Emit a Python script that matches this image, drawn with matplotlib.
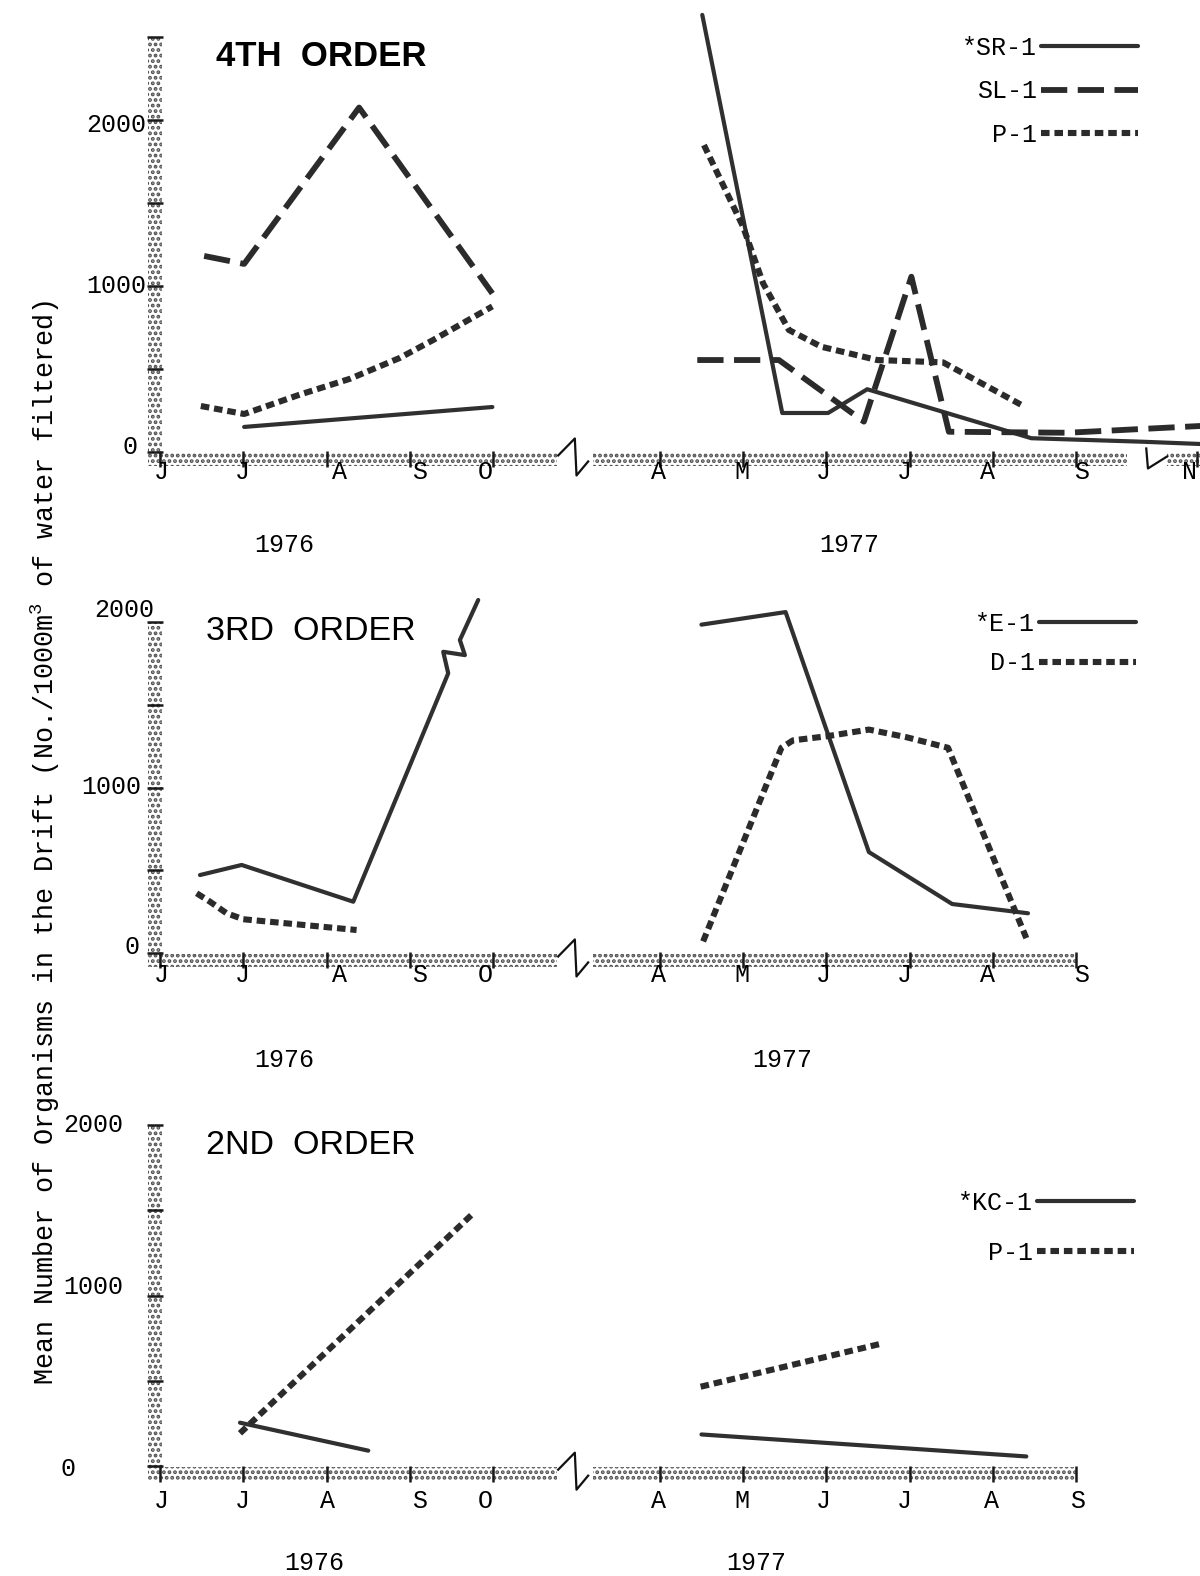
import matplotlib.pyplot as plt
import matplotlib.transforms as mtransforms
from matplotlib.patches import Rectangle

plt.rcParams['font.family'] = 'Liberation Mono'
plt.rcParams['mathtext.fontset'] = 'custom'
plt.rcParams['mathtext.rm'] = 'Liberation Mono'
plt.rcParams['hatch.linewidth'] = 1.9

# x = months counted from June 1976 (April 1977 = 6)
month_ticks_76 = [0, 1, 2, 3, 4]
month_labels_76 = ['J', 'J', 'A', 'S', 'O']
month_ticks_77 = [6, 7, 8, 9, 10, 11]
month_labels_77 = ['A', 'M', 'J', 'J', 'A', 'S']
nov_tick = 12.45

# 4th order
sr1_76_x = [1.01, 3.99]
sr1_76_y = [151, 271]
sr1_77_x = [6.51, 7.47, 8.02, 8.49, 10.46, 11.79, 12.5]
sr1_77_y = [2633, 235, 235, 378, 83, 62, 48]
sl1_76_x = [0.53, 1.01, 2.39, 3.99]
sl1_76_y = [1181, 1133, 2075, 955]
sl1_77_x = [6.45, 7.43, 8.45, 9.02, 9.47, 10.9, 12.5]
sl1_77_y = [554, 554, 183, 1056, 122, 116, 157]
p1a_76_x = [0.49, 1.01, 1.68, 2.28, 2.88, 3.28, 3.99]
p1a_76_y = [277, 229, 346, 441, 567, 675, 877]
p1a_77_x = [6.53, 7.0, 7.24, 7.55, 7.94, 8.61, 9.4, 10.38]
p1a_77_y = [1849, 1357, 1016, 735, 634, 554, 540, 273]

# 3rd order (E-1 1976 keeps the break mark drawn on the line)
e1_76_x = [0.48, 0.98, 2.32, 3.46, 3.40, 3.66, 3.60, 3.82]
e1_76_y = [471, 532, 310, 1690, 1820, 1800, 1891, 2133]
d1_76_x = [0.44, 0.60, 0.80, 1.0, 2.36]
d1_76_y = [361, 310, 240, 204, 139]
e1_77_x = [6.5, 7.51, 8.51, 9.51, 10.42]
e1_77_y = [1984, 2060, 610, 296, 240]
d1_77_x = [6.52, 7.46, 7.6, 8.01, 8.51, 8.96, 9.46, 10.4]
d1_77_y = [70, 1240, 1285, 1310, 1350, 1304, 1240, 90]

# 2nd order
kc1_76_x = [0.96, 2.50]
kc1_76_y = [254, 90]
p1b_76_x = [0.96, 3.76]
p1b_76_y = [192, 1482]
kc1_77_x = [6.5, 10.4]
kc1_77_y = [185, 56]
p1b_77_x = [6.49, 8.68]
p1b_77_y = [465, 720]

W, H = 1200, 1576
X0, DX = 160, 83.3          # pixel of June 1976 and pixels per month
XLIM = (-0.15, 12.48)
BAND = (-85, -5)             # stippled x axis band (data units)
YBAND = (-0.14, 0.02)        # stippled y axis band (months)

# the typed month letters sit a little off the tick marks
label_pos_top = [0.01, 0.99, 2.16, 3.11, 3.9, 5.99, 6.98, 7.96, 8.94, 9.93, 11.06]
label_pos_bottom = [0.01, 0.99, 2.01, 3.12, 3.9, 5.99, 6.98, 7.96, 8.94, 9.98, 11.02]

fig = plt.figure(figsize=(W / 100, H / 100), dpi=100)

solid = dict(color='#303030', lw=3.0, solid_capstyle='round')
dashed = dict(color='#2b2b2b', lw=4.2, dashes=(4.5, 1.8))
dotted = dict(color='#2b2b2b', lw=4.4, dashes=(1.4, 0.8))


def panel(zero_px, scale, ylim):
    left = X0 + XLIM[0] * DX
    bottom = zero_px - ylim[0] * scale
    height = (ylim[1] - ylim[0]) * scale
    ax = fig.add_axes([left / W, 1 - bottom / H,
                       (XLIM[1] - XLIM[0]) * DX / W, height / H])
    ax.set_xlim(XLIM)
    ax.set_ylim(ylim)
    ax.patch.set_visible(False)
    for sp in ax.spines.values():
        sp.set_visible(False)
    ax.spines['bottom'].set_position(('data', sum(BAND) / 2))
    ax.spines['left'].set_position(('data', sum(YBAND) / 2))
    ax.xaxis.remove_overlapping_locs = False
    return ax


def stipple(ax, x0, x1, y0, y1):
    ax.add_patch(Rectangle((x0, y0), x1 - x0, y1 - y0, facecolor='white',
                           edgecolor='#505050', linewidth=0, hatch='...',
                           clip_on=False, zorder=1))


def frame(ax, top, segments, ticks, label_pos, labels, pad):
    stipple(ax, YBAND[0], YBAND[1], BAND[0], top)
    for a, b in segments:
        stipple(ax, a, b, BAND[0], BAND[1])
    ax.set_xticks(ticks, [''] * len(ticks))
    ax.set_xticks(label_pos, labels, minor=True)
    ax.tick_params(axis='x', which='major', direction='inout', length=11,
                   width=1.8, color='#1a1a1a')
    ax.tick_params(axis='x', which='minor', length=0, labelsize=18, pad=pad)
    ax.set_yticks(range(0, int(top) + 1, 500))
    ax.tick_params(axis='y', direction='inout', length=12, width=1.8,
                   color='#1a1a1a', labelleft=False)


def zigzag(ax, scale, xs, offs_px):
    mid = sum(BAND) / 2
    ax.plot(xs, [mid - o / scale for o in offs_px], color='#111111', lw=1.6,
            clip_on=False, zorder=3)


def ylabels(ax, rows):
    base = mtransforms.blended_transform_factory(fig.transFigure, ax.transData)
    for value, text, right_px, dy in rows:
        tr = mtransforms.offset_copy(base, fig=fig, x=0, y=-dy, units='dots')
        ax.text(right_px / W, value, text, transform=tr, ha='right',
                va='center', fontsize=18)


def legend(ax, handles, labels, right_px, top_px, spacing):
    ax.legend(handles, labels, loc='upper right',
              bbox_to_anchor=(right_px / W, 1 - top_px / H),
              bbox_transform=fig.transFigure, frameon=False, markerfirst=False,
              handlelength=3.9, handletextpad=0.15, labelspacing=spacing,
              borderpad=0, borderaxespad=0, prop={'size': 18})


# ---------------- 4th order
s1 = 0.166
ax1 = panel(452, s1, (-110, 2720))
frame(ax1, 2500, [(YBAND[0], 4.77), (5.2, 11.61), (12.09, 12.48)],
      month_ticks_76 + month_ticks_77 + [nov_tick],
      label_pos_top + [12.36], month_labels_76 + month_labels_77 + ['N'], 0.5)
zigzag(ax1, s1, [4.78, 4.98, 5.0, 5.14], [-4, -21, 16, 2])
zigzag(ax1, s1, [11.84, 11.86, 12.09], [-11, 9, -3])
ax1.plot(sr1_76_x, sr1_76_y, **solid)
ax1.plot(sl1_76_x, sl1_76_y, **dashed)
ax1.plot(p1a_76_x, p1a_76_y, **dotted)
h1, = ax1.plot(sr1_77_x, sr1_77_y, clip_on=False, **solid)
h2, = ax1.plot(sl1_77_x, sl1_77_y, **dashed)
h3, = ax1.plot(p1a_77_x, p1a_77_y, **dotted)
legend(ax1, [h1, h2, h3], ['*SR-1', 'SL-1', 'P-1'], 1138, 36, 0.78)
ylabels(ax1, [(2000, '2000', 146, 5), (1000, '1000', 146, 0), (0, '0', 138, -5)])

# ---------------- 3rd order
s2 = 0.1655
ax2 = panel(953, s2, (-110, 2250))
frame(ax2, 2000, [(YBAND[0], 4.77), (5.2, 11.0)],
      month_ticks_76 + month_ticks_77, label_pos_top,
      month_labels_76 + month_labels_77, 1.5)
zigzag(ax2, s2, [4.78, 4.98, 5.0, 5.14], [-4, -21, 16, 2])
ax2.plot(e1_76_x, e1_76_y, clip_on=False, **solid)
ax2.plot(d1_76_x, d1_76_y, **dotted)
g1, = ax2.plot(e1_77_x, e1_77_y, **solid)
g2, = ax2.plot(d1_77_x, d1_77_y, **dotted)
legend(ax2, [g1, g2], ['*E-1', 'D-1'], 1136, 612, 0.62)
ylabels(ax2, [(2000, '2000', 154, -12), (1000, '1000', 141, 0), (0, '0', 139, -6)])

# ---------------- 2nd order
s3 = 0.1705
ax3 = panel(1466, s3, (-110, 2150))
frame(ax3, 2000, [(YBAND[0], 4.77), (5.2, 11.0)],
      month_ticks_76 + month_ticks_77, label_pos_bottom,
      month_labels_76 + month_labels_77, 10.7)
zigzag(ax3, s3, [4.78, 4.98, 5.0, 5.14], [-4, -21, 16, 2])
ax3.plot(kc1_76_x, kc1_76_y, **solid)
ax3.plot(p1b_76_x, p1b_76_y, **dotted)
k1, = ax3.plot(kc1_77_x, kc1_77_y, **solid)
k2, = ax3.plot(p1b_77_x, p1b_77_y, **dotted)
legend(ax3, [k1, k2], ['*KC-1', 'P-1'], 1134, 1191, 1.02)
ylabels(ax3, [(2000, '2000', 123, 0), (1000, '1000', 123, -9), (0, '0', 76, 3)])

# titles, years and the shared y label
title_font = dict(family='Liberation Sans', va='center', ha='left')
fig.text(216 / W, 1 - 57 / H, '4TH  ORDER', weight='bold', fontsize=25, **title_font)
fig.text(206 / W, 1 - 632 / H, '3RD  ORDER', fontsize=24.5, **title_font)
fig.text(206 / W, 1 - 1146 / H, '2ND  ORDER', fontsize=24.5, **title_font)

for x, y, t in [(284, 545, '1976'), (849, 545, '1977'),
                (284, 1060, '1976'), (782, 1060, '1977'),
                (314, 1563, '1976'), (756, 1563, '1977')]:
    fig.text(x / W, 1 - y / H, t, fontsize=18, ha='center', va='center')

fig.text(45 / W, 1 - 842 / H,
         r'Mean Number of Organisms in the Drift (No./1000m$^3$ of water filtered)',
         rotation=90, fontsize=19.3, ha='center', va='center')

fig.savefig('out.png', dpi=100)
